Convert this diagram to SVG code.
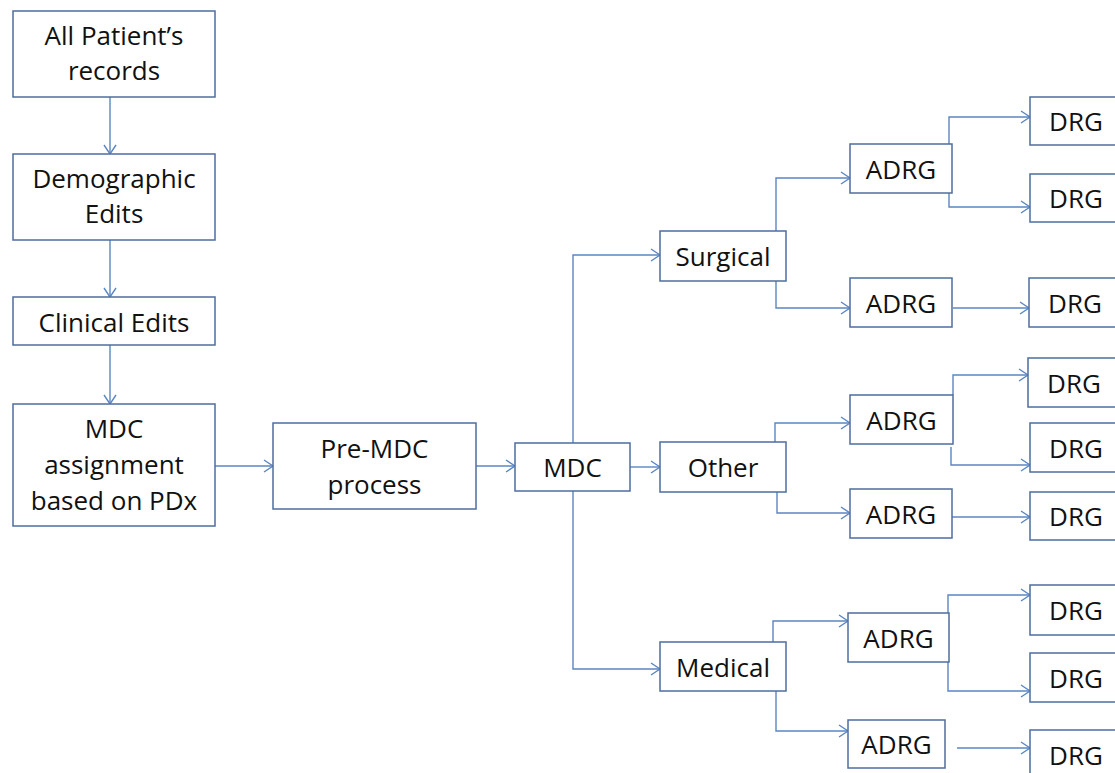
<svg xmlns="http://www.w3.org/2000/svg" width="1115" height="773" viewBox="0 0 1115 773">
  <style>
    .box { fill: #ffffff; stroke: #4d6e9e; stroke-width: 1.5; }
    .lbl { font-family: "Open Sans", "Liberation Sans", sans-serif; font-size: 26px; fill: #111111; text-anchor: middle; }
    .conn { fill: none; stroke: #5b86c2; stroke-width: 1.4; marker-end: url(#arr); }
  </style>
  <defs>
    <marker id="arr" markerUnits="userSpaceOnUse" markerWidth="14" markerHeight="16" viewBox="-11 -8 12 16" refX="0" refY="0" orient="auto">
      <path d="M-9,-6 L0,0 L-9,6" fill="none" stroke="#5b86c2" stroke-width="1.4"/>
    </marker>
  </defs>
  <rect width="1115" height="773" fill="#ffffff"/>

  <!-- connectors -->
  <g id="connectors">
    <path class="conn" d="M110,97 V154"/>
    <path class="conn" d="M110,240 V297"/>
    <path class="conn" d="M110,345 V404"/>
    <path class="conn" d="M215,466 H273"/>
    <path class="conn" d="M476,466 H515"/>
    <path class="conn" d="M573,443 V255 H660"/>
    <path class="conn" d="M630,467 H660"/>
    <path class="conn" d="M573,491 V669 H660"/>
    <path class="conn" d="M776,231 V178 H850"/>
    <path class="conn" d="M776,281 V308 H850"/>
    <path class="conn" d="M949,144 V117 H1030"/>
    <path class="conn" d="M949,193 V207 H1030"/>
    <path class="conn" d="M953,308 H1029"/>
    <path class="conn" d="M775,442 V423 H850"/>
    <path class="conn" d="M777,492 V513 H850"/>
    <path class="conn" d="M953,395 V375 H1028"/>
    <path class="conn" d="M951,447 V465 H1030"/>
    <path class="conn" d="M952,517 H1030"/>
    <path class="conn" d="M773,642 V621 H848"/>
    <path class="conn" d="M776,691 V731 H848"/>
    <path class="conn" d="M948,613 V595 H1030"/>
    <path class="conn" d="M948,662 V691 H1030"/>
    <path class="conn" d="M957,748 H1030"/>
  </g>

  <!-- processing pipeline -->
  <g id="records">
    <rect class="box" x="13" y="11" width="202" height="86"/>
    <text class="lbl" x="114" y="45">All Patient’s</text>
    <text class="lbl" x="114" y="80">records</text>
  </g>
  <g id="demographic">
    <rect class="box" x="13" y="154" width="202" height="86"/>
    <text class="lbl" x="114" y="188">Demographic</text>
    <text class="lbl" x="114" y="223">Edits</text>
  </g>
  <g id="clinical">
    <rect class="box" x="13" y="297" width="202" height="48"/>
    <text class="lbl" x="114" y="332">Clinical Edits</text>
  </g>
  <g id="mdc-assign">
    <rect class="box" x="13" y="404" width="202" height="122"/>
    <text class="lbl" x="114" y="438">MDC</text>
    <text class="lbl" x="114" y="474">assignment</text>
    <text class="lbl" x="114" y="510">based on PDx</text>
  </g>
  <g id="pre-mdc">
    <rect class="box" x="273" y="423" width="203" height="86"/>
    <text class="lbl" x="374.5" y="458">Pre-MDC</text>
    <text class="lbl" x="374.5" y="494">process</text>
  </g>
  <g id="mdc">
    <rect class="box" x="515" y="443" width="115" height="48"/>
    <text class="lbl" x="572.5" y="477">MDC</text>
  </g>

  <!-- partitions -->
  <g id="surgical">
    <rect class="box" x="660" y="231" width="126" height="50"/>
    <text class="lbl" x="723" y="266">Surgical</text>
  </g>
  <g id="other">
    <rect class="box" x="660" y="442" width="126" height="50"/>
    <text class="lbl" x="723" y="477">Other</text>
  </g>
  <g id="medical">
    <rect class="box" x="660" y="642" width="126" height="49"/>
    <text class="lbl" x="723" y="677">Medical</text>
  </g>

  <!-- ADRG level -->
  <g id="adrg-1">
    <rect class="box" x="850" y="144" width="102" height="49"/>
    <text class="lbl" x="901" y="179">ADRG</text>
  </g>
  <g id="adrg-2">
    <rect class="box" x="850" y="278" width="102" height="49"/>
    <text class="lbl" x="901" y="313">ADRG</text>
  </g>
  <g id="adrg-3">
    <rect class="box" x="850" y="395" width="103" height="49"/>
    <text class="lbl" x="901.5" y="430">ADRG</text>
  </g>
  <g id="adrg-4">
    <rect class="box" x="850" y="489" width="102" height="49"/>
    <text class="lbl" x="901" y="524">ADRG</text>
  </g>
  <g id="adrg-5">
    <rect class="box" x="848" y="613" width="101" height="49"/>
    <text class="lbl" x="898.5" y="648">ADRG</text>
  </g>
  <g id="adrg-6">
    <rect class="box" x="848" y="720" width="97" height="48"/>
    <text class="lbl" x="896.5" y="754">ADRG</text>
  </g>

  <!-- DRG level -->
  <g id="drg-1">
    <rect class="box" x="1030" y="97" width="92" height="48"/>
    <text class="lbl" x="1076" y="131">DRG</text>
  </g>
  <g id="drg-2">
    <rect class="box" x="1030" y="174" width="92" height="48"/>
    <text class="lbl" x="1076" y="208">DRG</text>
  </g>
  <g id="drg-3">
    <rect class="box" x="1029" y="278" width="92" height="49"/>
    <text class="lbl" x="1075" y="313">DRG</text>
  </g>
  <g id="drg-4">
    <rect class="box" x="1028" y="358" width="92" height="49"/>
    <text class="lbl" x="1074" y="393">DRG</text>
  </g>
  <g id="drg-5">
    <rect class="box" x="1030" y="423" width="92" height="49"/>
    <text class="lbl" x="1076" y="458">DRG</text>
  </g>
  <g id="drg-6">
    <rect class="box" x="1030" y="492" width="92" height="48"/>
    <text class="lbl" x="1076" y="526">DRG</text>
  </g>
  <g id="drg-7">
    <rect class="box" x="1030" y="585" width="92" height="50"/>
    <text class="lbl" x="1076" y="620">DRG</text>
  </g>
  <g id="drg-8">
    <rect class="box" x="1030" y="653" width="92" height="49"/>
    <text class="lbl" x="1076" y="688">DRG</text>
  </g>
  <g id="drg-9">
    <rect class="box" x="1030" y="730" width="92" height="50"/>
    <text class="lbl" x="1076" y="765">DRG</text>
  </g>
</svg>
